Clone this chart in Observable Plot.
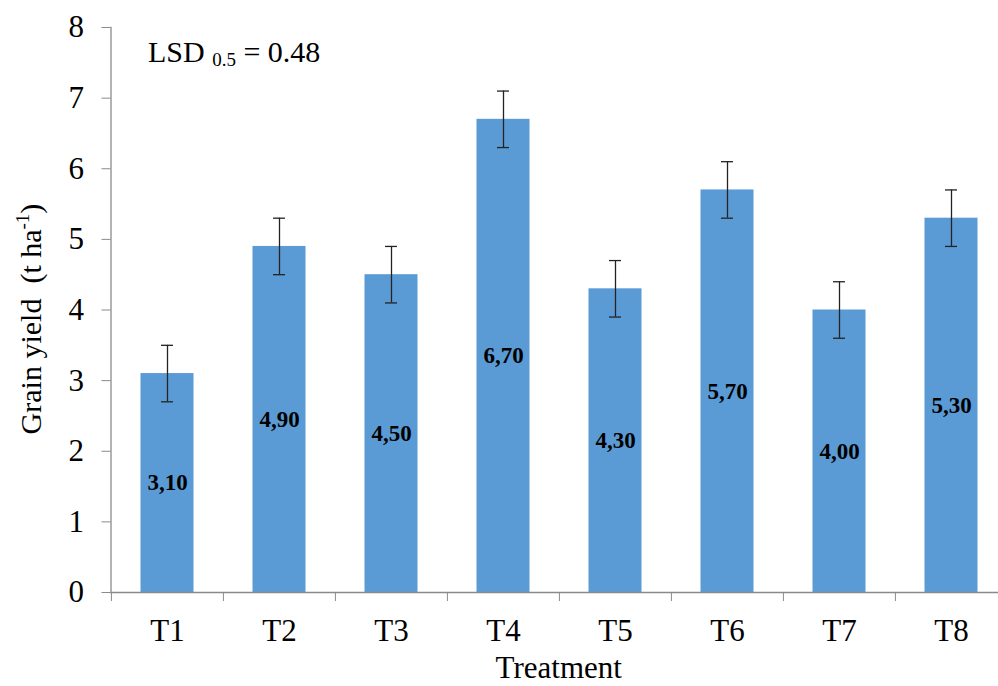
<!DOCTYPE html>
<html>
<head>
<meta charset="utf-8">
<script src="https://cdn.jsdelivr.net/npm/d3@7"></script>
<script src="https://cdn.jsdelivr.net/npm/@observablehq/plot@0.6"></script>
<style>
  html, body { margin: 0; padding: 0; background: #fff; }
  svg { display: block; }
  svg text { font-family: 'Liberation Serif', 'Times New Roman', serif; }
</style>
</head>
<body>
<div id="chart"></div>
<script>
const categories = ["T1", "T2", "T3", "T4", "T5", "T6", "T7", "T8"];
const values = [3.1, 4.9, 4.5, 6.7, 4.3, 5.7, 4.0, 5.3];
const errors = [0.4, 0.4, 0.4, 0.4, 0.4, 0.4, 0.4, 0.4];
const yTicks = [0, 1, 2, 3, 4, 5, 6, 7, 8];
const xTitle = "Treatment";
const yTitleMain = "Grain yield\u00a0\u00a0(t ha";
const yTitleSup = "-1";
const yTitleEnd = ")";
const lsdParts = ["LSD ", "0.5", " = 0.48"];

const data = categories.map((t, i) => ({
  t, v: values[i], e: errors[i],
  label: d3.format(".2f")(values[i]).replace(".", ",")
}));

const FONT = "'Liberation Serif', 'Times New Roman', serif";
const AX = "#8a8a8a";
const W = 998, H = 686;
const mLeft = 110.5, mBottom = 94, mTop = 27;
const step = 112.2;

const chart = Plot.plot({
  width: W, height: H,
  marginTop: mTop, marginBottom: mBottom, marginLeft: mLeft, marginRight: 0,
  style: { fontFamily: FONT, background: "#fff", color: "#000" },
  x: { domain: categories, range: [mLeft, mLeft + step * categories.length], padding: 0, axis: null },
  y: { domain: [0, 8], axis: null },
  marks: [
    Plot.barY(data, { x: "t", y: "v", fill: "#5B9BD5", insetLeft: 29.5, insetRight: 29.5 }),
    Plot.ruleX(data, { x: "t", y1: d => d.v - d.e, y2: d => d.v + d.e, stroke: "#222", strokeWidth: 1.3 }),
    Plot.tickY(data, { x: "t", y: d => d.v + d.e, insetLeft: 50, insetRight: 50, stroke: "#222", strokeWidth: 1.3 }),
    Plot.tickY(data, { x: "t", y: d => d.v - d.e, insetLeft: 50, insetRight: 50, stroke: "#222", strokeWidth: 1.3 }),
    Plot.text(data, { x: "t", y: d => d.v / 2, text: "label", fontWeight: "bold", fontSize: 23, fill: "#000", fontFamily: FONT }),
    Plot.axisY({ ticks: yTicks, tickSize: 9, tickPadding: 18, fontSize: 31, fontFamily: FONT, stroke: AX, label: null, tickFormat: d => String(d) }),
    Plot.ruleY([0], { stroke: AX, strokeWidth: 1.3 }),
    Plot.frame({ anchor: "left", stroke: AX, strokeWidth: 1.3 }),
    Plot.axisX({ tickSize: 0, tickPadding: 26, fontSize: 31, fontFamily: FONT, label: null }),
    Plot.axisX({ text: null, tickSize: 9, dx: -step / 2, stroke: AX, label: null }),
    Plot.text([xTitle], { text: d => d, frameAnchor: "bottom", lineAnchor: "bottom", dy: 85, dx: 4, fontSize: 31, fontFamily: FONT, fill: "#000" })
  ]
});

document.getElementById("chart").appendChild(chart);

const svg = d3.select(chart);
// y-axis title with superscript
const yt = svg.append("text")
  .attr("transform", "translate(41,319) rotate(-90)")
  .attr("text-anchor", "middle")
  .attr("font-family", FONT)
  .attr("font-size", 30)
  .attr("fill", "#000");
yt.append("tspan").text(yTitleMain);
yt.append("tspan").attr("font-size", 19).attr("dy", -12).text(yTitleSup);
yt.append("tspan").attr("dy", 12).text(yTitleEnd);

// LSD annotation with subscript
const lsd = svg.append("text")
  .attr("x", 148).attr("y", 62)
  .attr("text-anchor", "start")
  .attr("font-family", FONT)
  .attr("font-size", 30)
  .attr("fill", "#000")
  .style("white-space", "pre");
lsd.append("tspan").text(lsdParts[0]);
lsd.append("tspan").attr("font-size", 19).attr("dy", 4).text(lsdParts[1]);
lsd.append("tspan").attr("dy", -4).attr("font-size", 30).text(lsdParts[2]);
</script>
</body>
</html>
